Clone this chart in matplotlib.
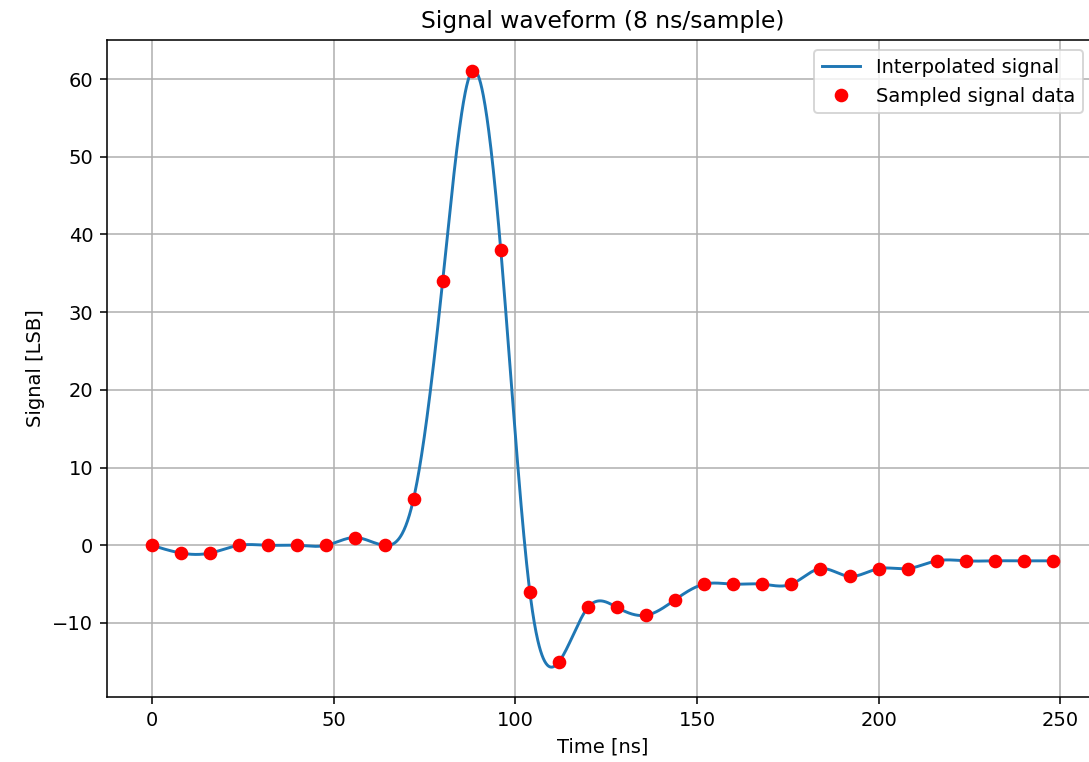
import numpy as np
import matplotlib
matplotlib.use('Agg')
import matplotlib.pyplot as plt

# --- Sampled data (8 ns per sample) ---
sample_period = 8
signal = [0, -1, -1, 0, 0, 0, 0, 1, 0, 6, 34, 61, 38, -6, -15, -8,
          -8, -9, -7, -5, -5, -5, -5, -3, -4, -3, -3, -2, -2, -2, -2, -2]

t = np.arange(len(signal)) * sample_period
y = np.array(signal, dtype=float)


def natural_cubic_spline(x, yv, xs):
    # second derivatives of natural cubic spline
    n = len(x)
    h = np.diff(x)
    A = np.zeros((n, n))
    b = np.zeros(n)
    A[0, 0] = 1
    A[-1, -1] = 1
    for i in range(1, n - 1):
        A[i, i - 1] = h[i - 1]
        A[i, i] = 2 * (h[i - 1] + h[i])
        A[i, i + 1] = h[i]
        b[i] = 6 * ((yv[i + 1] - yv[i]) / h[i] - (yv[i] - yv[i - 1]) / h[i - 1])
    M = np.linalg.solve(A, b)
    idx = np.clip(np.searchsorted(x, xs) - 1, 0, n - 2)
    x0, x1 = x[idx], x[idx + 1]
    hh = x1 - x0
    a = (x1 - xs) / hh
    c = (xs - x0) / hh
    return (a * yv[idx] + c * yv[idx + 1]
            + ((a**3 - a) * M[idx] + (c**3 - c) * M[idx + 1]) * hh**2 / 6)


t_fine = np.linspace(t[0], t[-1], 2000)
y_fine = natural_cubic_spline(t.astype(float), y, t_fine)

W, H, DPI = 1089, 762, 140
fig = plt.figure(figsize=(W / DPI, H / DPI), dpi=DPI)
ax = fig.add_axes([107 / W, 1 - 697 / H, (1098 - 107) / W, (697 - 40) / H])

ax.plot(t_fine, y_fine, color='#1f77b4', label='Interpolated signal')
ax.plot(t, y, 'o', color='red', label='Sampled signal data')
ax.set_xlabel('Time [ns]')
ax.set_ylabel('Signal [LSB]')
ax.set_title('Signal waveform (8 ns/sample)')
ax.grid(True)
ax.legend(loc='upper right', bbox_to_anchor=(1083 / W, 1 - 50 / H),
          bbox_transform=fig.transFigure, borderaxespad=0)

fig.savefig('out.png', dpi=DPI)
